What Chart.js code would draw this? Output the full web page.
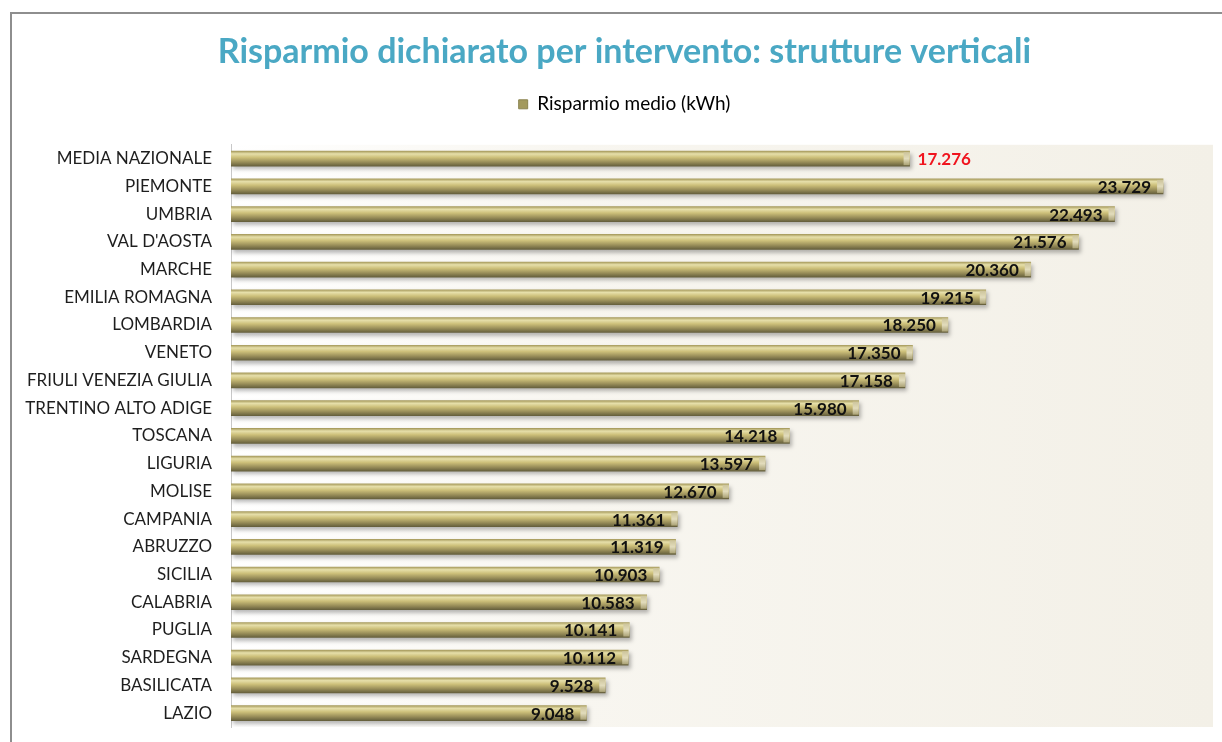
<!DOCTYPE html>
<html>
<head>
<meta charset="utf-8">
<script src="https://cdn.jsdelivr.net/npm/chart.js@4.4.1/dist/chart.umd.min.js"></script>
<style>
  body { margin: 0; background: #fff; overflow: hidden; }
  #wrap { position: relative; width: 1222px; height: 742px; overflow: hidden; }
  #frame { position: absolute; left: 10px; top: 12px; width: 1230px; height: 740px; border: 2px solid #8e8e8e; box-sizing: border-box; }
  canvas { position: absolute; left: 0; top: 0; }
</style>
</head>
<body>
<div id="wrap">
  <div id="frame"></div>
  <canvas id="savingChart" width="1222" height="742"></canvas>
</div>
<script>
// regions, national average first
var regions = ["MEDIA NAZIONALE", "PIEMONTE", "UMBRIA", "VAL D'AOSTA", "MARCHE", "EMILIA ROMAGNA",
  "LOMBARDIA", "VENETO", "FRIULI VENEZIA GIULIA", "TRENTINO ALTO ADIGE", "TOSCANA", "LIGURIA",
  "MOLISE", "CAMPANIA", "ABRUZZO", "SICILIA", "CALABRIA", "PUGLIA", "SARDEGNA", "BASILICATA", "LAZIO"];
var risparmio = [17276, 23729, 22493, 21576, 20360, 19215, 18250, 17350, 17158, 15980, 14218,
  13597, 12670, 11361, 11319, 10903, 10583, 10141, 10112, 9528, 9048];
var seriesName = "Risparmio medio (kWh)";
var chartTitle = "Risparmio dichiarato per intervento: strutture verticali";

function fmt(v) {
  return String(v).replace(/\B(?=(\d{3})+(?!\d))/g, ".");
}

// plot area background, light beige fading in from the left
var plotBg = {
  id: 'plotBg',
  beforeDraw: function(chart) {
    var a = chart.chartArea, ctx = chart.ctx;
    var g = ctx.createLinearGradient(a.left, 0, a.right, 0);
    g.addColorStop(0, '#ffffff');
    g.addColorStop(0.35, '#f8f6f0');
    g.addColorStop(1, '#f3f0e7');
    ctx.save();
    ctx.fillStyle = g;
    ctx.fillRect(a.left, a.top, a.right - a.left, a.bottom - a.top);
    ctx.restore();
  }
};

// title + legend sit a bit right of the canvas centre in the original
var headerShift = {
  id: 'headerShift',
  afterLayout: function(chart) {
    [chart.titleBlock, chart.legend].forEach(function(b) {
      if (b) { b.left += 12; b.right += 12; }
    });
  }
};

// soft shadow under the bars
var barShadow = {
  id: 'barShadow',
  beforeDatasetsDraw: function(chart) {
    var ctx = chart.ctx;
    ctx.save();
    ctx.shadowColor = 'rgba(0,0,0,0.28)';
    ctx.shadowBlur = 4;
    ctx.shadowOffsetX = 2;
    ctx.shadowOffsetY = 3;
  },
  afterDatasetsDraw: function(chart) {
    chart.ctx.restore();
  }
};

// end caps and value labels
var valueLabels = {
  id: 'valueLabels',
  afterDatasetsDraw: function(chart) {
    var ctx = chart.ctx;
    var meta = chart.getDatasetMeta(0);
    ctx.save();
    meta.data.forEach(function(bar, i) {
      var h = bar.height;
      // lighter end face
      var g = ctx.createLinearGradient(0, bar.y - h / 2, 0, bar.y + h / 2);
      g.addColorStop(0, '#c9c096');
      g.addColorStop(0.5, '#e2dcbc');
      g.addColorStop(1, '#a39a6c');
      ctx.fillStyle = g;
      ctx.fillRect(bar.x - 6, bar.y - h / 2 + 1, 6, h - 2);

      ctx.font = 'bold 17px Lato';
      ctx.textBaseline = 'middle';
      if (i === 0) {
        ctx.fillStyle = '#f0141e';
        ctx.textAlign = 'left';
        ctx.fillText(fmt(risparmio[i]), bar.x + 8, bar.y + 1);
      } else {
        ctx.fillStyle = '#111';
        ctx.textAlign = 'right';
        ctx.fillText(fmt(risparmio[i]), bar.x - 12, bar.y + 1);
      }
    });
    ctx.restore();
  }
};

function barFill(context) {
  var chart = context.chart;
  var yScale = chart.scales.y;
  if (!yScale) return '#b8ab68';
  var yc = yScale.getPixelForValue(context.dataIndex);
  var h = 15;
  var g = chart.ctx.createLinearGradient(0, yc - h / 2, 0, yc + h / 2);
  g.addColorStop(0, '#a89c5e');
  g.addColorStop(0.18, '#e6dfaa');
  g.addColorStop(0.42, '#cdc07a');
  g.addColorStop(0.72, '#9a8f5a');
  g.addColorStop(1, '#66603d');
  return g;
}

var ctx = document.getElementById("savingChart");
var savingChart = new Chart(ctx, {
  type: 'bar',
  data: {
    labels: regions,
    datasets: [{
      label: seriesName,
      data: risparmio,
      backgroundColor: barFill,
      borderWidth: 0,
      barThickness: 15
    }]
  },
  options: {
    indexAxis: 'y',
    responsive: false,
    animation: false,
    layout: { padding: { left: 12, right: 9, top: 0, bottom: 15 } },
    plugins: {
      title: {
        display: true,
        text: chartTitle,
        color: '#4aa8c4',
        font: { family: 'Lato', size: 34, weight: 'bold' },
        padding: { top: 32, bottom: 6 }
      },
      legend: {
        display: true,
        position: 'top',
        labels: {
          color: '#222',
          font: { family: 'Lato', size: 19 },
          boxWidth: 9,
          boxHeight: 9,
          padding: 16,
          generateLabels: function(chart) {
            return [{ text: seriesName, fillStyle: '#a39a5e', strokeStyle: '#8a8450', lineWidth: 1, datasetIndex: 0 }];
          }
        }
      },
      tooltip: { enabled: false }
    },
    scales: {
      x: {
        display: true, position: 'top', min: 0, max: 25000,
        grid: { display: false }, border: { display: false }, ticks: { display: false },
        afterFit: function(scale) { scale.height = 21; }
      },
      y: {
        grid: { display: false },
        border: { display: true, color: '#c8c8c8', width: 1 },
        ticks: { color: '#1e1e1e', font: { family: 'Lato', size: 17 }, padding: 11 },
        afterFit: function(scale) {
          scale.width = 219;
          scale.paddingTop = 0;
          scale.paddingBottom = 0;
        }
      }
    }
  },
  plugins: [plotBg, headerShift, barShadow, valueLabels]
});
</script>
</body>
</html>
